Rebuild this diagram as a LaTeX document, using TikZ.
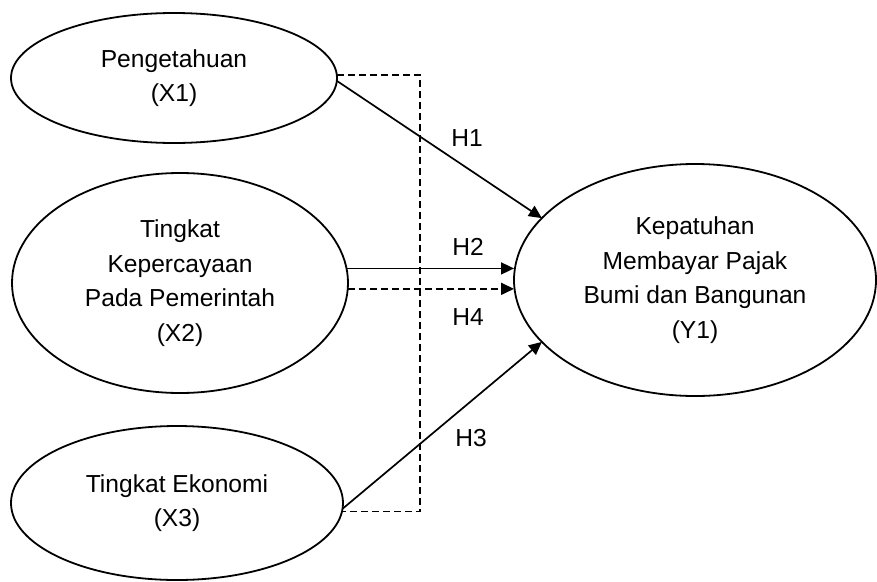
\documentclass[tikz,border=0pt]{standalone}
\usepackage{fontspec}
\setmainfont{Liberation Sans}
\usetikzlibrary{shapes.geometric,arrows.meta}
\begin{document}
\begin{tikzpicture}[x=1pt,y=-1pt,
  var/.style={ellipse,draw,line width=1.8pt,align=center,inner sep=0pt,outer sep=0pt,
    font=\fontsize{24.6}{34.5}\selectfont},
  conn/.style={line width=1.7pt,-{Triangle[length=13pt,width=12pt]}},
  dconn/.style={conn,dash pattern=on 7pt off 4pt},
  dline/.style={line width=1.5pt,dash pattern=on 7pt off 4pt},
  lbl/.style={font=\fontsize{24.6}{30}\selectfont,inner sep=0pt}]
\useasboundingbox (0,0) rectangle (877,581);
\node[var,minimum width=326pt,minimum height=130pt] (X1) at (174,78) {Pengetahuan\\(X1)};
\node[var,minimum width=336pt,minimum height=220pt] (X2) at (180,283) {Tingkat\\Kepercayaan\\Pada Pemerintah\\(X2)};
\node[var,minimum width=332pt,minimum height=154pt] (X3) at (177,503) {Tingkat Ekonomi\\(X3)};
\node[var,minimum width=362pt,minimum height=232pt] (Y1) at (695,280) {Kepatuhan\\Membayar Pajak\\Bumi dan Bangunan\\(Y1)};
\coordinate (dx) at (420,0);
\draw[dline] (X1.1.4) -- (X1.1.4 -| dx) -- (X3.-3.5 -| dx) -- (X3.-3.5);
\draw[conn] (X1.-1) -- (Y1.158.5);
\draw[conn] (X2.5.5) -- (X2.5.5 -| Y1.west);
\draw[dconn] (X2.-2) -- (X2.-2 -| Y1.west);
\draw[conn] (X3.-2) -- (Y1.202);
\node[lbl] (h1) at (467,138) {H1};
\node[lbl] (h2) at (468,247) {H2};
\node[lbl] (h4) at (468,317) {H4};
\node[lbl] (h3) at (471,438) {H3};
\end{tikzpicture}
\end{document}
